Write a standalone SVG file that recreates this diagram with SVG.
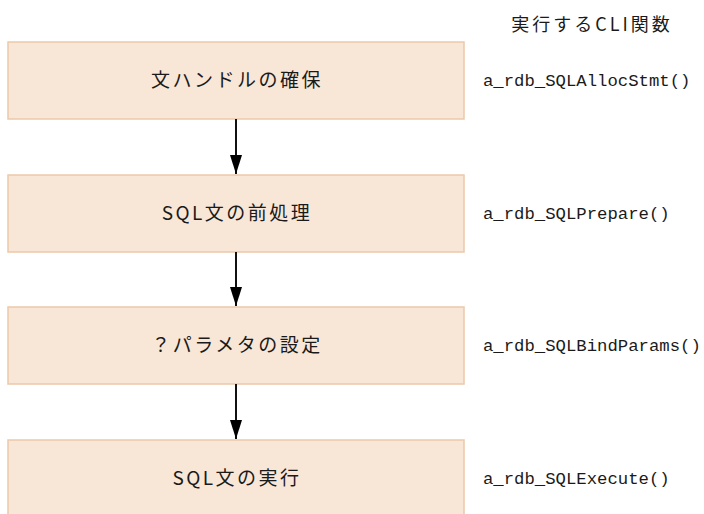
<svg xmlns="http://www.w3.org/2000/svg" width="704" height="514" viewBox="0 0 704 514">
<defs>
<style>
.box{fill:#f8e7d7;stroke:#edc9aa;stroke-width:1.5}
.t{font-family:"Noto Sans CJK JP","Noto Sans",sans-serif;font-size:19px;fill:#1a1a1a;text-anchor:middle;letter-spacing:2.5px}
.f{font-family:"Liberation Mono","DejaVu Sans Mono",monospace;font-size:17.3px;fill:#1a1a1a}
.h{font-family:"Noto Sans CJK JP","Noto Sans",sans-serif;font-size:18px;fill:#1a1a1a;text-anchor:middle;letter-spacing:3px}
.c{stroke:#111;stroke-width:2;fill:none}
</style>
<marker id="ah" markerWidth="19" markerHeight="12" refX="19" refY="6" orient="auto" markerUnits="userSpaceOnUse" viewBox="0 0 19 12">
<path d="M0,0 L19,6 L0,12 Z" fill="#000"/>
</marker>
</defs>
<rect width="704" height="514" fill="#fff"/>
<text class="h" x="592" y="31">実行するCLI関数</text>
<g id="n1"><rect class="box" x="8" y="42" width="456" height="77"/><text class="t" x="237" y="87">文ハンドルの確保</text></g>
<g id="n2"><rect class="box" x="8" y="175" width="456" height="77"/><text class="t" x="237" y="220">SQL文の前処理</text></g>
<g id="n3"><rect class="box" x="8" y="307" width="456" height="77"/><text class="t" x="237" y="352">？パラメタの設定</text></g>
<g id="n4"><rect class="box" x="8" y="440" width="456" height="80"/><text class="t" x="237" y="485">SQL文の実行</text></g>
<g id="labels">
<text class="f" x="483" y="86">a_rdb_SQLAllocStmt()</text>
<text class="f" x="483" y="219">a_rdb_SQLPrepare()</text>
<text class="f" x="483" y="351">a_rdb_SQLBindParams()</text>
<text class="f" x="483" y="484">a_rdb_SQLExecute()</text>
</g>
<g id="connectors">
<line class="c" x1="236" y1="119" x2="236" y2="174" marker-end="url(#ah)"/>
<line class="c" x1="236" y1="252" x2="236" y2="306" marker-end="url(#ah)"/>
<line class="c" x1="236" y1="384" x2="236" y2="439" marker-end="url(#ah)"/>
</g>
</svg>
